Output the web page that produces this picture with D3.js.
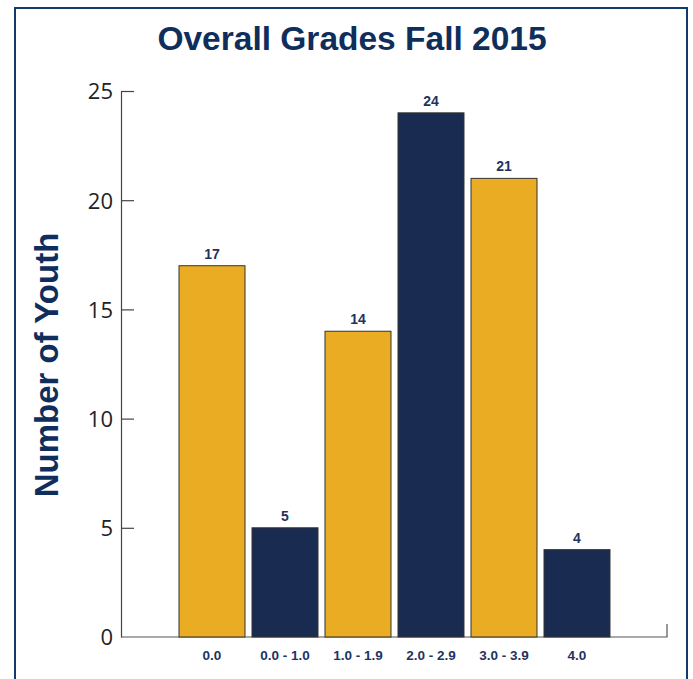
<!DOCTYPE html>
<html><head><meta charset="utf-8">
<script src="https://cdn.jsdelivr.net/npm/d3@7"></script>
<style>body{margin:0;background:#fff;}svg{display:block;}</style>
</head><body>
<script>
const categories = ["0.0", "0.0 - 1.0", "1.0 - 1.9", "2.0 - 2.9", "3.0 - 3.9", "4.0"];
const values = [17, 5, 14, 24, 21, 4];
const barColors = ["#E9AC22", "#1A2B52", "#E9AC22", "#1A2B52", "#E9AC22", "#1A2B52"];
const yTicks = [0, 5, 10, 15, 20, 25];
const title = "Overall Grades Fall 2015";
const yTitle = "Number of Youth";

const W = 693, H = 679;
const svg = d3.select("body").append("svg").attr("width", W).attr("height", H);

// frame
svg.append("path").attr("d", `M15,${H} V8 H687 V${H}`).attr("fill", "none")
  .attr("stroke", "#123A6A").attr("stroke-width", 2);

const y = d3.scaleLinear().domain([0, 25]).range([637, 91]);
const x = d3.scaleBand().domain(categories).range([175.5, 613.5]).paddingInner(0.096).paddingOuter(0.048);

// title
svg.append("text").attr("x", 352).attr("y", 50).attr("text-anchor", "middle")
  .attr("font-family", "Liberation Sans, Arial, sans-serif").attr("font-weight", "bold")
  .attr("font-size", 33.5).attr("fill", "#0F2E5C").text(title);

// y axis
const yAxis = d3.axisLeft(y).tickValues(yTicks).tickSizeInner(-13).tickSizeOuter(0).tickPadding(8);
const gy = svg.append("g").attr("transform", "translate(121,0)").call(yAxis);
gy.select(".domain").attr("stroke", "#444").attr("stroke-width", 1.2);
gy.selectAll(".tick line").attr("stroke", "#444").attr("stroke-width", 1.2)
  .attr("display", d => d === 0 ? "none" : null);
gy.selectAll(".tick text").attr("font-family", "Open Sans, sans-serif").attr("font-size", 22)
  .attr("fill", "#222").attr("dy", "0.36em");

// x axis baseline
svg.append("path").attr("d", `M121,${y(0)} H667 V${y(0) - 13}`).attr("fill", "none")
  .attr("stroke", "#555").attr("stroke-width", 1.2);

// y title
svg.append("text").attr("transform", "translate(58,365) rotate(-90)").attr("text-anchor", "middle")
  .attr("font-family", "Liberation Sans, Arial, sans-serif").attr("font-weight", "bold")
  .attr("font-size", 33).attr("fill", "#0F2E5C").text(yTitle);

// bars
svg.selectAll("rect.bar").data(values).enter().append("rect").attr("class", "bar")
  .attr("x", (d, i) => x(categories[i])).attr("width", x.bandwidth())
  .attr("y", d => y(d)).attr("height", d => y(0) - y(d))
  .attr("fill", (d, i) => barColors[i]).attr("stroke", "#333").attr("stroke-width", 1);

// value labels
svg.selectAll("text.val").data(values).enter().append("text").attr("class", "val")
  .attr("x", (d, i) => x(categories[i]) + x.bandwidth() / 2).attr("y", d => y(d) - 7)
  .attr("text-anchor", "middle").attr("font-family", "Liberation Sans, Arial, sans-serif")
  .attr("font-weight", "bold").attr("font-size", 14).attr("fill", "#1F3360").text(d => d);

// x labels
svg.selectAll("text.cat").data(categories).enter().append("text").attr("class", "cat")
  .attr("x", d => x(d) + x.bandwidth() / 2).attr("y", 660)
  .attr("text-anchor", "middle").attr("font-family", "Liberation Sans, Arial, sans-serif")
  .attr("font-weight", "bold").attr("font-size", 13.5).attr("fill", "#1F3360").text(d => d);
</script>
</body></html>
